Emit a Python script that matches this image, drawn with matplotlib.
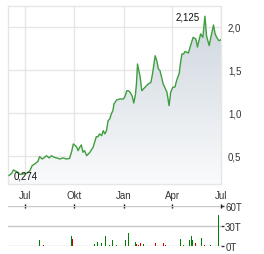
import numpy as np
import pandas as pd
import matplotlib
matplotlib.use("Agg")
import matplotlib.pyplot as plt
import matplotlib.dates as mdates
from matplotlib.colors import LinearSegmentedColormap

plt.rcParams['font.family'] = ['Liberation Sans', 'DejaVu Sans']

price_dates = [
    "2023-06-01", "2023-06-06", "2023-06-09", "2023-06-14", "2023-06-18", "2023-06-21",
    "2023-06-27", "2023-07-04", "2023-07-10", "2023-07-14", "2023-07-19", "2023-07-25",
    "2023-07-28", "2023-08-02", "2023-08-05", "2023-08-10", "2023-08-15", "2023-08-19",
    "2023-08-24", "2023-08-29", "2023-09-04", "2023-09-10", "2023-09-16", "2023-09-22",
    "2023-09-26", "2023-09-29", "2023-10-05", "2023-10-08", "2023-10-11", "2023-10-14",
    "2023-10-17", "2023-10-20", "2023-10-24", "2023-10-30", "2023-11-05", "2023-11-11",
    "2023-11-14", "2023-11-17", "2023-11-21", "2023-11-24", "2023-11-27", "2023-11-30",
    "2023-12-03", "2023-12-06", "2023-12-09", "2023-12-12", "2023-12-14", "2023-12-19",
    "2023-12-25", "2024-01-01", "2024-01-04", "2024-01-07", "2024-01-10", "2024-01-13",
    "2024-01-17", "2024-01-20", "2024-01-23", "2024-01-25", "2024-01-27", "2024-02-01",
    "2024-02-04", "2024-02-10", "2024-02-16", "2024-02-21", "2024-02-24", "2024-02-29",
    "2024-03-03", "2024-03-06", "2024-03-09", "2024-03-12", "2024-03-15", "2024-03-22",
    "2024-03-26", "2024-03-29", "2024-04-02", "2024-04-06", "2024-04-09", "2024-04-14",
    "2024-04-16", "2024-04-19", "2024-04-22", "2024-04-25", "2024-05-01", "2024-05-07",
    "2024-05-10", "2024-05-15", "2024-05-18", "2024-05-20", "2024-05-24", "2024-05-28",
    "2024-06-01", "2024-06-04", "2024-06-09", "2024-06-12", "2024-06-17", "2024-06-20",
    "2024-06-23", "2024-06-27", "2024-07-01",
]
price_values = [
    0.274, 0.299, 0.337, 0.322, 0.310, 0.285,
    0.291, 0.299, 0.329, 0.387, 0.407, 0.438,
    0.492, 0.465, 0.477, 0.503, 0.477, 0.503,
    0.485, 0.477, 0.465, 0.477, 0.465, 0.471,
    0.552, 0.640, 0.608, 0.562, 0.601, 0.628,
    0.543, 0.562, 0.503, 0.543, 0.601, 0.724,
    0.724, 0.756, 0.736, 0.794, 0.756, 0.794,
    0.910, 0.930, 0.988, 1.027, 1.105, 1.151,
    1.163, 1.163, 1.201, 1.259, 1.259, 1.241,
    1.198, 1.116, 1.209, 1.337, 1.570, 1.415,
    1.259, 1.299, 1.337, 1.357, 1.453, 1.666,
    1.608, 1.512, 1.492, 1.415, 1.337, 1.241,
    1.085, 1.241, 1.299, 1.302, 1.376, 1.462,
    1.570, 1.686, 1.686, 1.715, 1.698, 1.822,
    1.880, 1.860, 1.767, 1.822, 1.919, 1.880,
    2.125, 1.895, 1.783, 1.880, 2.023, 1.919,
    1.880, 1.841, 1.852,
]

vol_dates = [
    "2023-07-27", "2023-08-04", "2023-09-25", "2023-09-27", "2023-11-08", "2023-11-13",
    "2023-11-21", "2023-11-28", "2023-12-05", "2023-12-12", "2023-12-19", "2024-01-05",
    "2024-01-10", "2024-01-23", "2024-01-26", "2024-01-29", "2024-02-01", "2024-02-07",
    "2024-03-01", "2024-03-15", "2024-03-19", "2024-04-16", "2024-04-22", "2024-05-03",
    "2024-05-07", "2024-05-09", "2024-05-14", "2024-05-25", "2024-06-01", "2024-06-11",
    "2024-06-27", "2024-07-01",
]
vol_values = [
    10000, 1500, 16000, 11000, 4000, 7000,
    5500, 16000, 2000, 10000, 1500, 10000,
    20500, 7000, 3500, 2000, 5500, 3500,
    5500, 5500, 2000, 11000, 1500, 10000,
    15500, 10000, 5500, 12000, 1500, 2000,
    47500, 1000,
]
vol_up = [
    True, False, True, False, True, True,
    True, True, True, True, True, True,
    True, True, False, False, False, True,
    False, False, False, True, True, True,
    True, True, False, True, False, True,
    True, True,
]

month_ticks = ["2023-07-01", "2023-10-01", "2024-01-01", "2024-04-01", "2024-07-01"]
month_labels = ["Jul", "Okt", "Jan", "Apr", "Jul"]
price_ticks = [0.5, 1.0, 1.5, 2.0]
price_tick_labels = ["0,5", "1,0", "1,5", "2,0"]
vol_ticks = [0, 30000, 60000]
vol_tick_labels = ["0T", "30T", "60T"]

pd_dates = pd.to_datetime(price_dates)
pv = np.array(price_values)
vd = pd.to_datetime(vol_dates)
vv = np.array(vol_values)
mt = pd.to_datetime(month_ticks)

x_left = pd.Timestamp("2023-05-30")
x_right = pd.Timestamp("2024-07-01")

fig = plt.figure(figsize=(2.64, 2.55), dpi=100)
W, H = 264, 255
ax = fig.add_axes([8 / W, 1 - 185 / H, 213 / W, 178 / H])
axv = fig.add_axes([8 / W, 1 - 247.3 / H, 213 / W, 40 / H])

grid_c = "#e6e6e6"
txt_c = "#333333"

# main chart
ax.set_xlim(x_left, x_right)
ymin, ymax = 0.174, 2.244
ax.set_ylim(ymin, ymax)
cmap = LinearSegmentedColormap.from_list("g", ["#cbd4dc", "#fafbfc"])
grad = np.linspace(0, 1, 256).reshape(-1, 1)
im = ax.imshow(grad, cmap=cmap, aspect="auto",
               extent=[mdates.date2num(x_left), mdates.date2num(x_right), ymin, ymax],
               origin="upper", zorder=1)
poly = ax.fill_between(pd_dates, pv, ymin, color="none", lw=0)
clip = poly.get_paths()[0]
im.set_clip_path(clip, transform=ax.transData)
ax.plot(pd_dates, pv, color="#3f9e3f", lw=1.0, zorder=3)

for s in ax.spines.values():
    s.set_color(grid_c)
    s.set_linewidth(1)
ax.set_xticks(mt)
ax.set_xticklabels(month_labels)
ax.set_yticks(price_ticks)
ax.set_yticklabels(price_tick_labels)
ax.yaxis.tick_right()
ax.tick_params(axis="both", length=0, labelsize=7, colors=txt_c)
ax.tick_params(axis="y", pad=5)
ax.tick_params(axis="x", pad=4)
ax.grid(True, color=grid_c, lw=1)
ax.set_axisbelow(True)

imax = int(np.argmax(pv))
imin = int(np.argmin(pv))
ax.annotate(f"{pv[imax]:.3f}".replace(".", ","), (pd_dates[imax], pv[imax]),
            xytext=(-4, 0), textcoords="offset points", ha="right", va="center",
            fontsize=7, color="#111111", zorder=4)
ax.annotate(f"{pv[imin]:.3f}".replace(".", ","), (pd_dates[imin], pv[imin]),
            xytext=(3, 0), textcoords="offset points", ha="left", va="center",
            fontsize=7, color="#111111", zorder=4)

# volume chart
axv.set_xlim(x_left, x_right)
axv.set_ylim(0, 60000)
colors = ["#008000" if u else "#cc0000" for u in vol_up]
axv.bar(vd, vv, width=1.9, color=colors, lw=0, zorder=3)
for s in axv.spines.values():
    s.set_visible(False)
axv.set_yticks(vol_ticks)
axv.set_yticklabels(vol_tick_labels)
axv.yaxis.tick_right()
axv.tick_params(axis="y", length=2.5, width=1, colors=txt_c, labelsize=7, pad=0.5)
axv.grid(True, axis="y", color="#c8c8c8", lw=1, zorder=0)
axv.set_xticks(mt)
axv.xaxis.tick_top()
axv.tick_params(axis="x", direction="inout", length=3, width=1, color="#111111",
                labeltop=False, labelbottom=False)
axv.set_axisbelow(True)

fig.savefig("out.png", dpi=100)
